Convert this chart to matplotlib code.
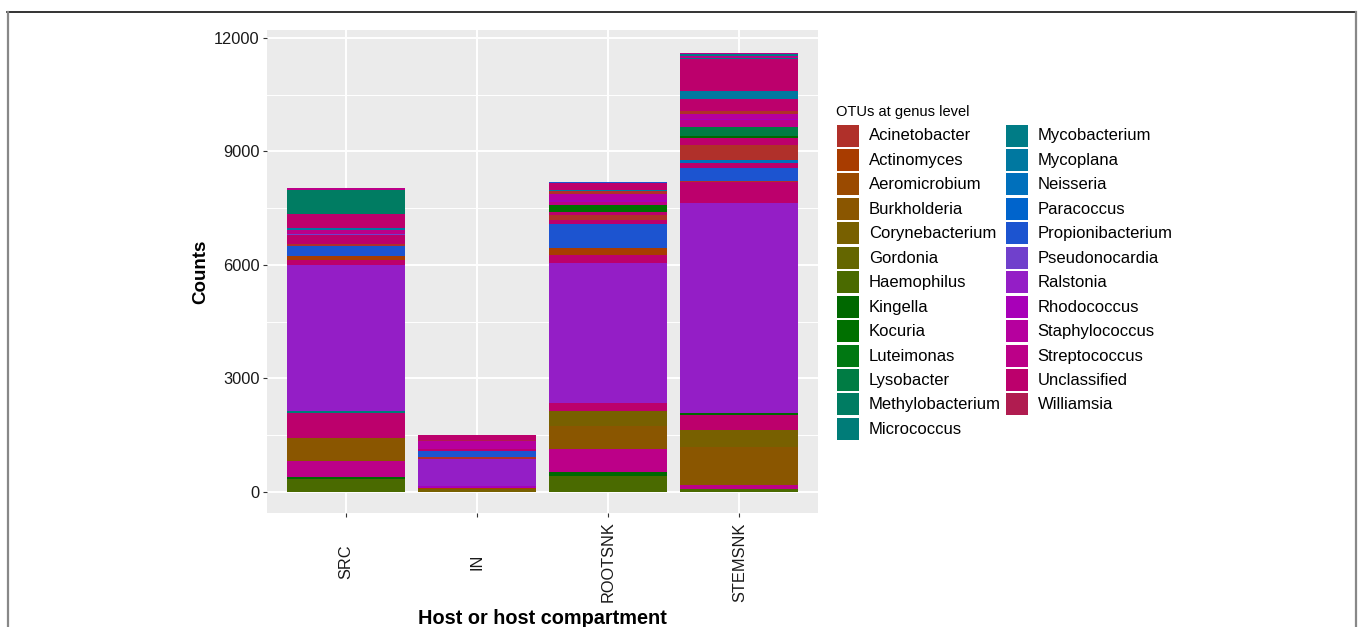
import matplotlib
matplotlib.use("Agg")
import matplotlib.pyplot as plt
from matplotlib.patches import Rectangle
from matplotlib.lines import Line2D
import numpy as np

plt.rcParams['font.family'] = ['Liberation Sans', 'DejaVu Sans']

# genus palette (legend order)
genera = ['Acinetobacter', 'Actinomyces', 'Aeromicrobium', 'Burkholderia', 'Corynebacterium',
          'Gordonia', 'Haemophilus', 'Kingella', 'Kocuria', 'Luteimonas', 'Lysobacter',
          'Methylobacterium', 'Micrococcus', 'Mycobacterium', 'Mycoplana', 'Neisseria',
          'Paracoccus', 'Propionibacterium', 'Pseudonocardia', 'Ralstonia', 'Rhodococcus',
          'Staphylococcus', 'Streptococcus', 'Unclassified', 'Williamsia']
genus_colors = ['#b0302a', '#a83c00', '#9a4a00', '#8a5600', '#786000',
                '#646600', '#4a6a00', '#006800', '#007000', '#007812', '#007c44',
                '#007c62', '#007c78', '#007c86', '#0078a0', '#0070bc',
                '#0064cc', '#1c54d0', '#7040cc', '#941ec6', '#a800b8',
                '#b6009e', '#bc0088', '#bc006c', '#b01c50']

samples = ['SRC', 'IN', 'ROOTSNK', 'STEMSNK']

# OTU counts per sample, bottom to top of each stack
src_genus = ['Haemophilus', 'Kingella', 'Streptococcus', 'Burkholderia', 'Unclassified',
             'Micrococcus', 'Ralstonia', 'Unclassified', 'Actinomyces', 'Propionibacterium',
             'Acinetobacter', 'Unclassified', 'Pseudonocardia', 'Streptococcus', 'Mycoplana',
             'Unclassified', 'Methylobacterium', 'Streptococcus']
src_counts = [330, 45, 440, 600, 660, 45, 3880, 130, 105, 275,
              45, 235, 30, 100, 45, 380, 635, 50]

in_genus = ['Corynebacterium', 'Actinomyces', 'Rhodococcus', 'Ralstonia', 'Acinetobacter',
            'Propionibacterium', 'Unclassified', 'Staphylococcus', 'Williamsia', 'Unclassified']
in_counts = [60, 45, 55, 700, 45, 175, 45, 220, 30, 130]

rootsnk_genus = ['Haemophilus', 'Kingella', 'Streptococcus', 'Burkholderia', 'Corynebacterium',
                 'Unclassified', 'Ralstonia', 'Unclassified', 'Actinomyces', 'Propionibacterium',
                 'Unclassified', 'Acinetobacter', 'Unclassified', 'Kocuria', 'Streptococcus',
                 'Rhodococcus', 'Staphylococcus', 'Acinetobacter', 'Mycoplana', 'Unclassified',
                 'Propionibacterium']
rootsnk_counts = [415, 115, 600, 615, 400, 195, 3700, 210, 185, 645,
                  105, 125, 95, 175, 80, 50, 175, 55, 50, 175, 30]

stemsnk_genus = ['Haemophilus', 'Streptococcus', 'Burkholderia', 'Corynebacterium', 'Unclassified',
                 'Kingella', 'Ralstonia', 'Unclassified', 'Acinetobacter', 'Propionibacterium',
                 'Unclassified', 'Neisseria', 'Acinetobacter', 'Unclassified', 'Kingella',
                 'Lysobacter', 'Streptococcus', 'Rhodococcus', 'Staphylococcus', 'Acinetobacter',
                 'Unclassified', 'Mycoplana', 'Unclassified', 'Mycobacterium', 'Streptococcus',
                 'Mycobacterium', 'Streptococcus']
stemsnk_counts = [60, 115, 995, 460, 395, 55, 5545, 575, 25, 335,
                  125, 90, 390, 185, 60, 245, 175, 35, 130, 70,
                  310, 210, 845, 45, 55, 45, 20]

W, H = 1358, 627
fig = plt.figure(figsize=(W / 100, H / 100), dpi=100)
fig.patch.set_facecolor('white')

def fx(px):
    return px / W

def fy(py):
    return 1 - py / H

ax = fig.add_axes([fx(267), fy(513), fx(551), 483 / H])
ax.set_facecolor('#ebebeb')
for s in ax.spines.values():
    s.set_visible(False)

color_of = dict(zip(genera, genus_colors))
stacks = [(src_genus, src_counts), (in_genus, in_counts),
          (rootsnk_genus, rootsnk_counts), (stemsnk_genus, stemsnk_counts)]
for i, (gen, cnt) in enumerate(stacks):
    cnt = np.array(cnt)
    bottoms = np.concatenate([[0], np.cumsum(cnt)[:-1]])
    ax.bar([i] * len(cnt), cnt, bottom=bottoms, width=0.9,
           color=[color_of[g] for g in gen], linewidth=0, zorder=3)

ax.set_xlim(-0.6, 3.6)
ax.set_ylim(-565, 12210)
ax.set_yticks([0, 3000, 6000, 9000, 12000])
ax.set_yticks([1500, 4500, 7500, 10500], minor=True)
ax.set_xticks(range(4))
ax.set_xticklabels(samples, rotation=90, va='center', ha='center')
ax.grid(which='major', color='white', linewidth=1.4, zorder=1)
ax.grid(which='minor', axis='y', color='white', linewidth=0.7, zorder=1)
ax.set_axisbelow(True)
ax.tick_params(axis='y', which='major', length=3.2, width=0.8, color='#333333',
               pad=2.2, labelsize=11.8, labelcolor='#1a1a1a')
ax.tick_params(axis='x', which='major', length=3.2, width=0.8, color='#333333',
               pad=32, labelsize=11.8, labelcolor='#1a1a1a')
ax.tick_params(which='minor', length=0)

fig.text(fx(200.5), fy(271.5), 'Counts', rotation=90, ha='center', va='center',
         fontsize=13.5, fontweight='bold')
fig.text(fx(542.5), fy(624), 'Host or host compartment', ha='center', va='baseline',
         fontsize=14.3, fontweight='bold')

# legend
fig.text(fx(836), fy(111.7), 'OTUs at genus level', ha='left', va='center', fontsize=10.5)
step = 24.45
for k, (g, c) in enumerate(zip(genera, genus_colors)):
    col, row = divmod(k, 13)
    kx = 837.3 if col == 0 else 1006
    ky = 124.5 + row * step
    fig.add_artist(Rectangle((fx(kx), fy(ky + 22)), 22 / W, 22 / H,
                             transform=fig.transFigure, facecolor=c, edgecolor='none'))
    fig.text(fx(kx + 31.5), fy(ky + 11.5), g, ha='left', va='center', fontsize=12)

# outer frame
fig.add_artist(Line2D([fx(7), fx(1356)], [fy(11.5), fy(11.5)], transform=fig.transFigure,
                      color='#111111', linewidth=1.2))
fig.add_artist(Line2D([fx(7.5), fx(7.5)], [fy(11.5), 0], transform=fig.transFigure,
                      color='#888888', linewidth=1.6))
fig.add_artist(Line2D([fx(1355.5), fx(1355.5)], [fy(11.5), 0], transform=fig.transFigure,
                      color='#888888', linewidth=1.6))

fig.savefig('out.png', dpi=100)
